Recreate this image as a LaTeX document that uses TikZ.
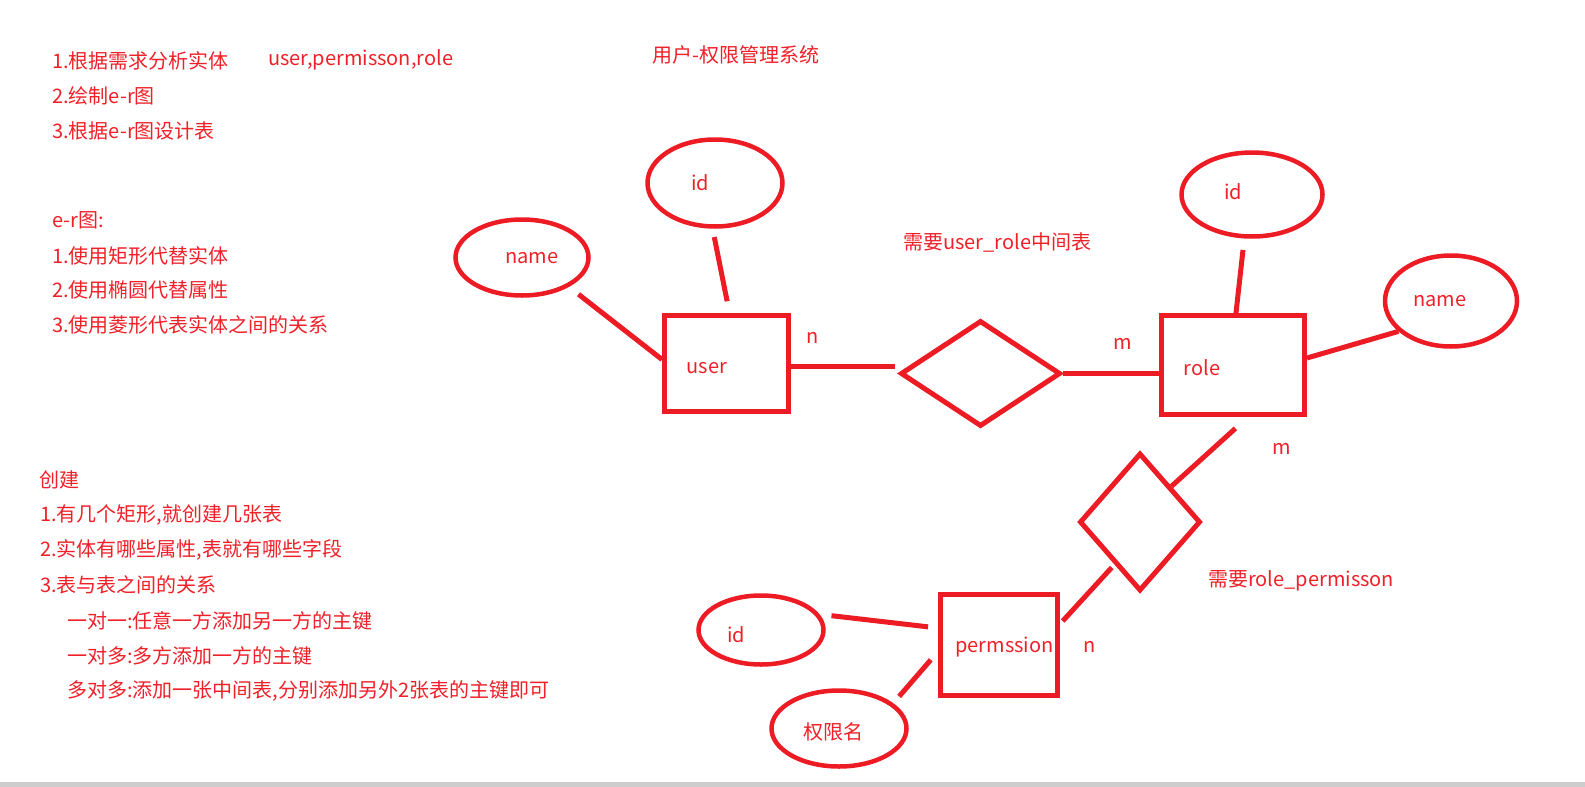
\documentclass[tikz,border=0pt]{standalone}
\usepackage{fontspec}
\setmainfont{Noto Sans CJK SC}
\usepackage{tikz}
\usetikzlibrary{shapes.geometric}
\definecolor{erred}{RGB}{237,28,36}
\definecolor{txtred}{RGB}{240,32,40}
\definecolor{bargray}{RGB}{205,205,205}
\tikzset{
  entity/.style={rectangle, draw=erred, line width=5pt, inner sep=0pt},
  attrib/.style={ellipse, draw=erred, line width=4.5pt, inner sep=0pt},
  relation/.style={diamond, draw=erred, line width=5pt, inner sep=0pt},
  line/.style={draw=erred, line width=5pt},
  txt/.style={text=txtred, inner sep=0pt},
  note/.style={text=txtred, inner sep=0pt, anchor=west}
}

\begin{document}
\begin{tikzpicture}[x=1pt, y=-1pt, font=\fontsize{20}{24}\selectfont]
  \useasboundingbox (0,0) rectangle (1585,787);

  % Notes
  \node[note] (n1) at (52,61) {1.根据需求分析实体};
  \node[note] (n1b) at (268,60) {user,permisson,role};
  \node[note] (n2) at (52,96) {2.绘制e-r图};
  \node[note] (n3) at (52,131) {3.根据e-r图设计表};
  \node[note] (er) at (52,220.5) {e-r图:};
  \node[note] (er1) at (52,255.5) {1.使用矩形代替实体};
  \node[note] (er2) at (52,290) {2.使用椭圆代替属性};
  \node[note] (er3) at (52,325) {3.使用菱形代表实体之间的关系};
  \node[note] (cj) at (39,480) {创建};
  \node[note] (cj1) at (40,515) {1.有几个矩形,就创建几张表};
  \node[note] (cj2) at (40,550) {2.实体有哪些属性,表就有哪些字段};
  \node[note] (cj3) at (40,585) {3.表与表之间的关系};
  \node[note] (cj31) at (67,621) {一对一:任意一方添加另一方的主键};
  \node[note] (cj32) at (67,656) {一对多:多方添加一方的主键};
  \node[note] (cj33) at (67,690.5) {多对多:添加一张中间表,分别添加另外2张表的主键即可};
  \node[note] (title) at (652,54.5) {用户-权限管理系统};
  \node[note] (mid1) at (903,242.5) {需要user\_role中间表};
  \node[note] (mid2) at (1208,581) {需要role\_permisson};

  % Entities
  \node[entity, minimum width=124pt, minimum height=96pt] (user) at (726.5,363.5) {};
  \node[entity, minimum width=143pt, minimum height=99pt] (role) at (1233,365) {};
  \node[entity, minimum width=117pt, minimum height=101pt] (perm) at (999,645) {};
  \node[txt] (usert) at (707,368) {user};
  \node[txt] (rolet) at (1202,368) {role};
  \node[txt] (permt) at (1004.5,647) {permssion};

  % Attributes
  \node[attrib, minimum width=135pt, minimum height=87pt] (uid) at (715,183) {};
  \node[attrib, minimum width=133pt, minimum height=76pt] (uname) at (522,257.5) {};
  \node[attrib, minimum width=141pt, minimum height=84pt] (rid) at (1252,194.5) {};
  \node[attrib, minimum width=132pt, minimum height=91pt] (rname) at (1451,301) {};
  \node[attrib, minimum width=125pt, minimum height=69pt] (pid) at (761,630) {};
  \node[attrib, minimum width=135pt, minimum height=76pt] (pname) at (839,728.5) {};
  \node[txt] (uidt) at (700,183) {id};
  \node[txt] (unamet) at (532,258) {name};
  \node[txt] (ridt) at (1233,192) {id};
  \node[txt] (rnamet) at (1440,301.5) {name};
  \node[txt] (pidt) at (736,635) {id};
  \node[txt] (pnamet) at (833,732) {权限名};

  % Relations
  \node[relation, minimum width=160pt, minimum height=106pt] (d1) at (980.5,373.5) {};
  \node[relation, minimum width=121pt, minimum height=138pt] (d2) at (1140,522) {};

  % Connections
  \draw[line, shorten <=12pt] (uname.-32) -- ([yshift=4pt]user.west);
  \draw[line, shorten <=8.5pt, shorten >=12pt] (uid.-93) -- ([xshift=3pt]user.north);
  \draw[line, shorten >=3pt] ([yshift=-2.5pt]user.east) -- ([yshift=-2.5pt]user.east -| d1.west);
  \draw[line] (d1.east) -- (d1.east -| role.west);
  \draw[line, shorten <=11.5pt] (rid.-100) -- ([xshift=3pt]role.north);
  \draw[line] ([yshift=7pt]role.east) -- (rname.-150);
  \draw[line, shorten <=17pt] ([xshift=15pt]role.south) -- (d2.north east);
  \draw[line, shorten <=4pt, shorten >=4pt] (d2.-121) -- ([yshift=21pt]perm.east);
  \draw[line, shorten <=12pt, shorten >=10pt] (pid.15) -- ([yshift=17pt]perm.west);
  \draw[line, shorten <=11pt, shorten >=9pt] ([yshift=-6.5pt]perm.west) -- (pname.25);

  % Cardinalities
  \node[txt] (c1) at (813,338) {n};
  \node[txt] (c2) at (1123,344) {m};
  \node[txt] (c3) at (1282,449) {m};
  \node[txt] (c4) at (1090,647) {n};

  % Bottom bar
  \fill[bargray] (0,782) rectangle (1585,787);
\end{tikzpicture}
\end{document}
